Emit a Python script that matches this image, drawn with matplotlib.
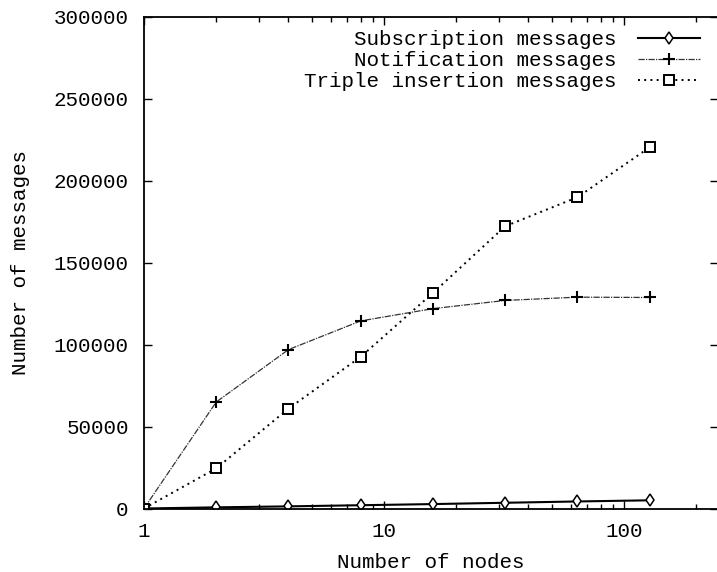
import matplotlib
matplotlib.use("Agg")
import matplotlib.pyplot as plt
from matplotlib.ticker import FixedLocator, LogLocator, NullFormatter, FixedFormatter

nodes = [1, 2, 4, 8, 16, 32, 64, 128]
subscription = [0, 700, 1300, 2000, 2700, 3500, 4300, 5000]
notification = [0, 65000, 97000, 114500, 122000, 127000, 129000, 128800]
triple = [0, 24500, 61000, 92600, 131600, 172300, 190000, 220500]

labels = ["    Subscription messages", "    Notification messages", "Triple insertion messages"]
y_ticks = [0, 50000, 100000, 150000, 200000, 250000, 300000]
x_ticks = [1, 10, 100]

FONT = "Liberation Mono"
FS = 15

fig = plt.figure(figsize=(7.17, 5.72), dpi=100)
ax = fig.add_axes([144 / 717, (572 - 508.5) / 572, (718 - 144) / 717, (508.5 - 17) / 572])

ax.plot(nodes, subscription, color="black", lw=1.5, marker="d", ms=6, mfc="white",
        mec="black", mew=1.1, label=labels[0])
ax.plot(nodes, notification, color="#333333", lw=0.9, ls=(0, (5, 1, 1, 1)), marker="+",
        ms=9, mec="black", mew=1.5, label=labels[1])
ax.plot(nodes, triple, color="black", lw=1.4, ls=(0, (1, 2.2)), marker="s", ms=6.5,
        mfc="white", mec="black", mew=1.4, label=labels[2])

ax.set_xscale("log")
ax.set_xlim(1, 10 ** ((718 - 144) / 240))
ax.set_ylim(0, 300000)

ax.xaxis.set_major_locator(FixedLocator(x_ticks))
ax.xaxis.set_major_formatter(FixedFormatter([str(v) for v in x_ticks]))
ax.xaxis.set_minor_locator(LogLocator(base=10, subs=range(2, 10)))
ax.xaxis.set_minor_formatter(NullFormatter())
ax.set_yticks(y_ticks)
ax.set_yticklabels([str(v) for v in y_ticks])

ax.tick_params(axis="both", which="both", direction="in", top=True, right=True,
               labelsize=FS, width=1.0)
ax.tick_params(axis="both", which="major", length=6)
ax.tick_params(axis="both", which="minor", length=3.5)
ax.tick_params(axis="x", which="major", pad=10)
ax.tick_params(axis="y", which="major", pad=11)
for t in ax.get_xticklabels() + ax.get_yticklabels():
    t.set_fontfamily(FONT)

for s in ax.spines.values():
    s.set_linewidth(1.3)

ax.set_xlabel("Number of nodes", fontfamily=FONT, fontsize=FS, labelpad=8)
ax.set_ylabel("Number of messages", fontfamily=FONT, fontsize=FS, labelpad=17)

leg = ax.legend(loc="upper right", bbox_to_anchor=((700 - 144) / 574, (508.5 - 30) / 491.5),
                frameon=False, markerfirst=False, borderaxespad=0, borderpad=0,
                handlelength=3.0, handletextpad=1.0, labelspacing=0.1,
                prop={"family": FONT, "size": FS})

fig.savefig("out.png", dpi=100)
